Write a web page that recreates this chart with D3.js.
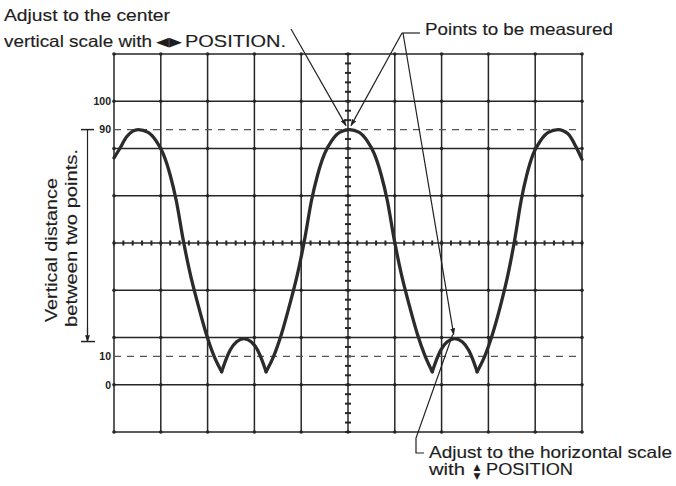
<!DOCTYPE html>
<html>
<head>
<meta charset="utf-8">
<script src="https://cdn.jsdelivr.net/npm/d3@7"></script>
<style>
  html, body { margin: 0; padding: 0; background: #fff; }
  svg { display: block; }
  .note text { font-family: "Liberation Sans", Arial, Helvetica, sans-serif; font-size: 16.5px; fill: #1e1e1e; stroke: #1e1e1e; stroke-width: 0.15px; }
  .lvl text { font-family: "Liberation Sans", Arial, sans-serif; font-size: 10.5px; font-weight: bold; fill: #222; }
</style>
</head>
<body>
<svg id="scope" width="676" height="486"></svg>
<script>
  // graticule: 10 x 8 divisions
  var colDivs = [0, 1, 2, 3, 4, 5, 6, 7, 8, 9, 10];
  var rowDivs = [0, 1, 2, 3, 4, 5, 6, 7, 8];

  // percent marks on the left of the screen
  var levelTicks = [0, 10, 90, 100];
  var levelLabels = ['0', '10', '90', '100'];
  var dashedLevels = [10, 90];

  // displayed waveform, x in divisions, y in percent
  var traceX = [0, 0.13, 0.27, 0.52, 0.73, 0.90, 1.05, 1.20, 1.33, 1.48, 1.63, 1.80, 1.97, 2.14, 2.30,
    2.39, 2.48, 2.62, 2.775, 2.93, 3.07, 3.16, 3.25,
    3.41, 3.58, 3.75, 3.92, 4.07, 4.22, 4.35, 4.50, 4.65, 4.82, 5.03, 5.24, 5.41, 5.56, 5.71, 5.84,
    5.99, 6.14, 6.31, 6.48, 6.65, 6.80,
    6.89, 6.98, 7.12, 7.28, 7.44, 7.58, 7.67, 7.76,
    7.92, 8.09, 8.26, 8.42, 8.56, 8.70, 8.82, 8.96, 9.11, 9.28, 9.49, 9.70, 9.87, 10];
  var traceY = [80, 83.5, 87.5, 90, 89, 86, 81.5, 74, 65, 51, 39, 28, 18, 10, 4.6,
    8.8, 12.2, 15.2, 16.3, 15.2, 12.2, 8.8, 4.6,
    10, 18, 28, 39, 51, 65, 74, 81.5, 86, 89, 90, 89, 86, 81.5, 74, 65,
    51, 39, 28, 18, 10, 4.6,
    8.8, 12.2, 15.2, 16.3, 15.2, 12.2, 8.8, 4.6,
    10, 18, 28, 39, 51, 65, 74, 81.5, 86, 89, 90, 88.5, 84, 79.5];
  // sharp cusps where the trace is broken into smooth pieces
  var cuspX = [2.30, 3.25, 6.80, 7.76];

  var svg = d3.select('#scope');

  var x = d3.scaleLinear().domain([0, 10]).range([114, 582]);
  var yDiv = d3.scaleLinear().domain([0, 8]).range([432, 54]);
  var y = d3.scaleLinear().domain([0, 100]).range([yDiv(1), yDiv(7)]);

  svg.append('defs').append('marker')
    .attr('id', 'tip')
    .attr('viewBox', '0 0 10 10')
    .attr('refX', 9).attr('refY', 5)
    .attr('markerWidth', 7).attr('markerHeight', 7)
    .attr('markerUnits', 'userSpaceOnUse')
    .attr('orient', 'auto')
    .append('path')
    .attr('d', 'M0,1.5L10,5L0,8.5Z')
    .attr('fill', '#222');

  /* ---------- graticule ---------- */
  var grid = svg.append('g').attr('stroke', '#262626').attr('stroke-width', 1.5);

  grid.selectAll('.v').data(colDivs).enter().append('line')
    .attr('x1', function (d) { return x(d); })
    .attr('x2', function (d) { return x(d); })
    .attr('y1', yDiv(0)).attr('y2', yDiv(8));

  grid.selectAll('.h').data(rowDivs).enter().append('line')
    .attr('y1', function (d) { return yDiv(d); })
    .attr('y2', function (d) { return yDiv(d); })
    .attr('x1', x(0)).attr('x2', x(10));

  // dots at every crossing
  var crossings = [];
  colDivs.forEach(function (c) {
    rowDivs.forEach(function (r) { crossings.push([c, r]); });
  });
  svg.append('g').selectAll('circle').data(crossings).enter().append('circle')
    .attr('cx', function (d) { return x(d[0]); })
    .attr('cy', function (d) { return yDiv(d[1]); })
    .attr('r', 1.8)
    .attr('fill', '#262626');

  // fine ticks on the centre axes, 5 per division
  var fine = d3.range(0, 10.001, 0.2);
  var fineRows = d3.range(0, 8.001, 0.2);
  var ticks = svg.append('g').attr('stroke', '#262626').attr('stroke-width', 2);
  ticks.selectAll('.fx').data(fine).enter().append('line')
    .attr('x1', function (d) { return x(d); })
    .attr('x2', function (d) { return x(d); })
    .attr('y1', yDiv(4) - 2.5).attr('y2', yDiv(4) + 2.5);
  ticks.selectAll('.fy').data(fineRows).enter().append('line')
    .attr('y1', function (d) { return yDiv(d); })
    .attr('y2', function (d) { return yDiv(d); })
    .attr('x1', x(5) - 3).attr('x2', x(5) + 3);

  // 10 % and 90 % dashed lines
  svg.append('g').selectAll('line').data(dashedLevels).enter().append('line')
    .attr('x1', x(0)).attr('x2', x(10))
    .attr('y1', function (d) { return y(d); })
    .attr('y2', function (d) { return y(d); })
    .attr('stroke', '#555')
    .attr('stroke-width', 1.3)
    .attr('stroke-dasharray', '7,6');

  // percent labels
  var lvlAxis = d3.axisLeft(y)
    .tickValues(levelTicks)
    .tickFormat(function (d, i) { return levelLabels[i]; })
    .tickSize(0)
    .tickPadding(3);
  var lvl = svg.append('g')
    .attr('class', 'lvl')
    .attr('transform', 'translate(' + x(0) + ',0)')
    .call(lvlAxis);
  lvl.select('.domain').remove();

  /* ---------- waveform ---------- */
  var pts = traceX.map(function (d, i) { return [d, traceY[i]]; });
  var pieces = [[]];
  pts.forEach(function (p) {
    pieces[pieces.length - 1].push(p);
    if (cuspX.indexOf(p[0]) >= 0) pieces.push([p]);
  });

  var line = d3.line()
    .x(function (d) { return x(d[0]); })
    .y(function (d) { return y(d[1]); })
    .curve(d3.curveMonotoneX);

  svg.append('g').selectAll('path').data(pieces).enter().append('path')
    .attr('d', line)
    .attr('fill', 'none')
    .attr('stroke', '#2b2b2b')
    .attr('stroke-width', 3.3)
    .attr('stroke-linecap', 'round')
    .attr('stroke-linejoin', 'round');

  /* ---------- annotations ---------- */
  var notes = svg.append('g').attr('class', 'note');
  function note(tx, ty, str, len) {
    return notes.append('text')
      .attr('x', tx).attr('y', ty)
      .attr('textLength', len)
      .attr('lengthAdjust', 'spacingAndGlyphs')
      .text(str);
  }
  note(4, 21, 'Adjust to the center', 166);
  note(4, 47, 'vertical scale with', 148);
  notes.append('text').attr('x', 156).attr('y', 46)
    .style('font-family', '"DejaVu Sans", sans-serif')
    .style('font-size', '13px')
    .style('stroke-width', '0')
    .attr('textLength', 26)
    .attr('lengthAdjust', 'spacingAndGlyphs')
    .text('\u25C0\u25B6');
  note(185, 47, 'POSITION.', 101);

  note(425, 35, 'Points to be measured', 188);

  note(429, 458, 'Adjust to the horizontal scale', 243);
  note(429, 475, 'with', 36);
  notes.append('text').attr('x', 477).attr('y', 470)
    .attr('text-anchor', 'middle')
    .style('font-family', '"DejaVu Sans", sans-serif')
    .style('font-size', '9px')
    .style('stroke-width', '0')
    .text('\u25B2');
  notes.append('text').attr('x', 477).attr('y', 479)
    .attr('text-anchor', 'middle')
    .style('font-family', '"DejaVu Sans", sans-serif')
    .style('font-size', '9px')
    .style('stroke-width', '0')
    .text('\u25BC');
  note(486, 475, 'POSITION', 87);

  note(0, 0, 'Vertical distance', 144)
    .attr('transform', 'translate(57,322) rotate(-90)');
  note(0, 0, 'between two points.', 178)
    .attr('transform', 'translate(77,327) rotate(-90)');

  var leaders = svg.append('g')
    .attr('fill', 'none')
    .attr('stroke', '#222')
    .attr('stroke-width', 1.2);

  leaders.append('path')
    .attr('d', 'M291,29L' + (x(5) - 2) + ',' + (y(90) - 4))
    .attr('marker-end', 'url(#tip)');
  leaders.append('path').attr('d', 'M420,33L402,33');
  leaders.append('path')
    .attr('d', 'M402,33L' + (x(5) + 3) + ',' + (y(90) - 4))
    .attr('marker-end', 'url(#tip)');
  leaders.append('path')
    .attr('d', 'M403,33L' + (x(7.28) - 1) + ',' + (y(16.3) - 4))
    .attr('marker-end', 'url(#tip)');
  leaders.append('path')
    .attr('d', 'M424,453L416,453L416,438L' + (x(7.28) - 2) + ',' + (y(16.3) - 4));

  // vertical distance bar
  var barTop = y(90), barBot = y(16.3) + 3;
  leaders.append('path').attr('d', 'M87.5,' + barTop + 'L87.5,' + barBot);
  leaders.append('path').attr('d', 'M81,' + barTop + 'L94,' + barTop).attr('stroke-width', 1.5);
  leaders.append('path').attr('d', 'M81,' + barBot + 'L95,' + barBot).attr('stroke-width', 1.5);
  leaders.append('path').attr('d', 'M87.5,' + (barBot - 14) + 'L87.5,' + barBot).attr('marker-end', 'url(#tip)');
</script>
</body>
</html>
